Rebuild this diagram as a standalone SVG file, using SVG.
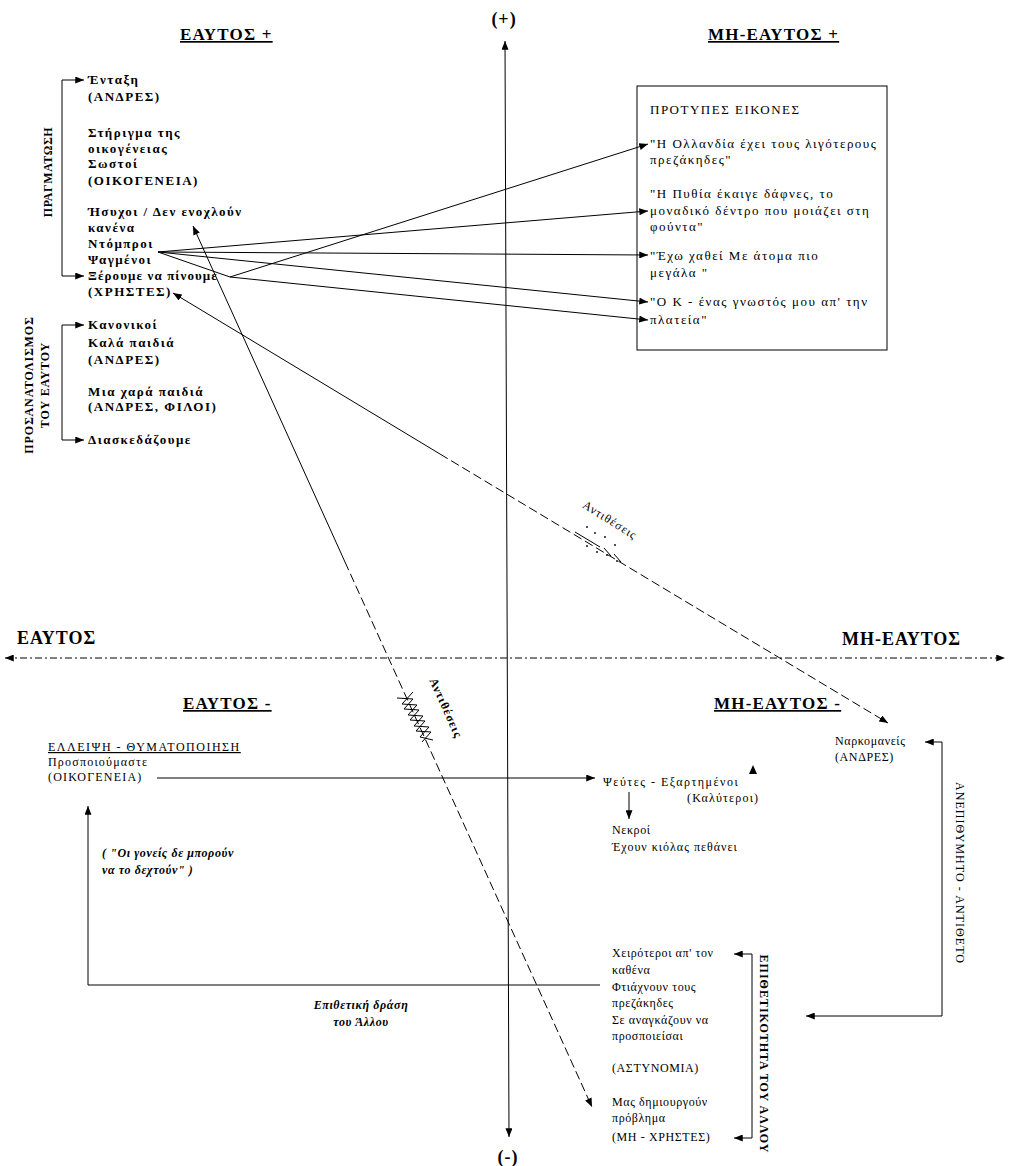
<svg xmlns="http://www.w3.org/2000/svg" width="1010" height="1166" viewBox="0 0 1010 1166" font-family="'Liberation Serif', 'DejaVu Serif', serif">
<defs>
<style>
.t{font-family:"Liberation Serif","DejaVu Serif",serif;font-size:12px;fill:#000;letter-spacing:0.6px}
.w{font-size:13px;letter-spacing:1.5px}
.b{font-weight:bold}
.i{font-style:italic}
.h{font-family:"Liberation Serif","DejaVu Serif",serif;font-size:17px;font-weight:bold;fill:#000;text-decoration:underline;letter-spacing:1.2px}
.ax{font-family:"Liberation Serif","DejaVu Serif",serif;font-size:18px;font-weight:bold;fill:#000;letter-spacing:1px}
.ln{stroke:#000;stroke-width:1;fill:none}
.ds{stroke:#000;stroke-width:1;fill:none;stroke-dasharray:7,3,2,3}
.arr{marker-end:url(#ah)}
.arr2{marker-start:url(#ah);marker-end:url(#ah)}
</style>
<marker id="ah" viewBox="0 0 10 8" refX="10" refY="4" markerWidth="9" markerHeight="7" markerUnits="userSpaceOnUse" orient="auto-start-reverse"><path d="M0,0 L10,4 L0,8 z" fill="#000"/></marker>
</defs>
<rect width="1010" height="1166" fill="#fff"/>

<g id="axes">
<line class="ln arr2" x1="505" y1="41" x2="509" y2="1137"/>
<line class="ds arr2" x1="5" y1="658" x2="1005" y2="658"/>
<text class="ax" x="504" y="25" text-anchor="middle" font-size="22">(+)</text>
<text class="ax" x="508" y="1163" text-anchor="middle" font-size="22">(-)</text>
<text class="ax" x="17" y="644">ΕΑΥΤΟΣ</text>
<text class="ax" x="842" y="645">ΜΗ-ΕΑΥΤΟΣ</text>
</g>

<g id="headings">
<text class="h" x="180" y="40">ΕΑΥΤΟΣ +</text>
<text class="h" x="708" y="40">ΜΗ-ΕΑΥΤΟΣ +</text>
<text class="h" x="183" y="709">ΕΑΥΤΟΣ -</text>
<text class="h" x="714" y="709">ΜΗ-ΕΑΥΤΟΣ -</text>
</g>

<g id="pragmatosi">
<text class="t b" transform="translate(52,172) rotate(-90)" text-anchor="middle" font-size="14" style="letter-spacing:0.6px">ΠΡΑΓΜΑΤΩΣΗ</text>
<text class="t w b" x="88" y="84">Ένταξη</text>
<text class="t w b" x="88" y="101">(ΑΝΔΡΕΣ)</text>
<text class="t w b" x="88" y="137">Στήριγμα της</text>
<text class="t w b" x="88" y="153">οικογένειας</text>
<text class="t w b" x="88" y="168">Σωστοί</text>
<text class="t w b" x="88" y="185">(ΟΙΚΟΓΕΝΕΙΑ)</text>
<text class="t w b" x="88" y="216">Ήσυχοι / Δεν ενοχλούν</text>
<text class="t w b" x="88" y="232">κανένα</text>
<text class="t w b" x="88" y="248">Ντόμπροι</text>
<text class="t w b" x="88" y="264">Ψαγμένοι</text>
<text class="t w b" x="88" y="280" style="letter-spacing:1.1px">Ξέρουμε να πίνουμε</text>
<text class="t w b" x="88" y="296">(ΧΡΗΣΤΕΣ)</text>
</g>

<g id="prosanatolismos">
<text class="t b" transform="translate(33,385) rotate(-90)" text-anchor="middle" font-size="13" style="letter-spacing:0.85px">ΠΡΟΣΑΝΑΤΟΛΙΣΜΟΣ</text>
<text class="t b" transform="translate(49,385) rotate(-90)" text-anchor="middle" font-size="13" style="letter-spacing:0.85px">ΤΟΥ ΕΑΥΤΟΥ</text>
<text class="t w b" x="88" y="329">Κανονικοί</text>
<text class="t w b" x="88" y="347">Καλά παιδιά</text>
<text class="t w b" x="88" y="364">(ΑΝΔΡΕΣ)</text>
<text class="t w b" x="88" y="396">Μια χαρά παιδιά</text>
<text class="t w b" x="88" y="411">(ΑΝΔΡΕΣ, ΦΙΛΟΙ)</text>
<text class="t w b" x="88" y="444">Διασκεδάζουμε</text>
</g>

<g id="protypes-eikones">
<rect x="637" y="86" width="250" height="264" fill="none" stroke="#000" stroke-width="1"/>
<text class="t w" x="650" y="114">ΠΡΟΤΥΠΕΣ ΕΙΚΟΝΕΣ</text>
<text class="t w" x="650" y="148">"Η Ολλανδία έχει τους λιγότερους</text>
<text class="t w" x="650" y="164">πρεζάκηδες"</text>
<text class="t w" x="650" y="198">"Η Πυθία   έκαιγε δάφνες,   το</text>
<text class="t w" x="650" y="215">μοναδικό δέντρο που μοιάζει στη</text>
<text class="t w" x="650" y="231">φούντα"</text>
<text class="t w" x="650" y="260">"Έχω χαθεί   Με άτομα πιο</text>
<text class="t w" x="650" y="277">μεγάλα  "</text>
<text class="t w" x="650" y="306">"Ο Κ  - ένας γνωστός μου απ' την</text>
<text class="t w" x="650" y="324">πλατεία"</text>
</g>

<g id="elleipsi">
<text class="t" x="48" y="751" style="text-decoration:underline;letter-spacing:1.5px">ΕΛΛΕΙΨΗ - ΘΥΜΑΤΟΠΟΙΗΣΗ</text>
<text class="t" x="48" y="766" style="letter-spacing:1.2px">Προσποιούμαστε</text>
<text class="t" x="48" y="781" style="letter-spacing:1.2px">(ΟΙΚΟΓΕΝΕΙΑ)</text>
</g>

<g id="quote">
<text class="t i b" x="102" y="857">( "Οι γονείς δε μπορούν</text>
<text class="t i b" x="102" y="874">να το δεχτούν" )</text>
</g>

<g id="epithetiki-drasi">
<text class="t i b" x="361" y="1009" text-anchor="middle">Επιθετική δράση</text>
<text class="t i b" x="361" y="1026" text-anchor="middle">του Άλλου</text>
</g>

<g id="pseftes">
<text class="t" x="603" y="786" style="letter-spacing:1.5px">Ψεύτες - Εξαρτημένοι</text>
<text class="t" x="687" y="802" style="letter-spacing:1.2px">(Καλύτεροι)</text>
<path d="M749,774 L753,765 L757,774 z" fill="#000"/>
</g>

<g id="nekroi">
<text class="t" x="612" y="834">Νεκροί</text>
<text class="t" x="612" y="851" style="letter-spacing:1px">Έχουν κιόλας πεθάνει</text>
</g>

<g id="narkomaneis">
<text class="t" x="835" y="745">Ναρκομανείς</text>
<text class="t" x="835" y="761">(ΑΝΔΡΕΣ)</text>
</g>

<g id="anepithymito">
<text class="t" transform="translate(956,873) rotate(90)" text-anchor="middle" font-size="13" style="letter-spacing:1.05px">ΑΝΕΠΙΘΥΜΗΤΟ - ΑΝΤΙΘΕΤΟ</text>
</g>

<g id="epithetikotita">
<text class="t" x="612" y="957">Χειρότεροι απ' τον</text>
<text class="t" x="612" y="974">καθένα</text>
<text class="t" x="612" y="991">Φτιάχνουν τους</text>
<text class="t" x="612" y="1007">πρεζάκηδες</text>
<text class="t" x="612" y="1024">Σε αναγκάζουν να</text>
<text class="t" x="612" y="1040">προσποιείσαι</text>
<text class="t" x="612" y="1072">(ΑΣΤΥΝΟΜΙΑ)</text>
<text class="t" x="612" y="1106">Μας δημιουργούν</text>
<text class="t" x="612" y="1122">πρόβλημα</text>
<text class="t" x="612" y="1141">(ΜΗ - ΧΡΗΣΤΕΣ)</text>
<text class="t b" transform="translate(760,1054) rotate(90)" text-anchor="middle" font-size="14" style="letter-spacing:1px">ΕΠΙΘΕΤΙΚΟΤΗΤΑ ΤΟΥ ΑΛΛΟΥ</text>
</g>

<g id="connectors">
<path class="ln arr2" d="M84,80 H62 V276 H84"/>
<path class="ln arr2" d="M84,325 H62 V440 H84"/>
<line class="ln arr" x1="230" y1="277" x2="648" y2="144"/>
<line class="ln arr" x1="158" y1="252" x2="648" y2="211"/>
<line class="ln arr" x1="158" y1="252" x2="648" y2="255"/>
<line class="ln arr" x1="158" y1="252" x2="648" y2="302"/>
<line class="ln arr" x1="230" y1="277" x2="648" y2="320"/>
<line class="ln" x1="158" y1="252" x2="230" y2="277"/>
<line class="ln" x1="193" y1="226" x2="345" y2="562" style="marker-start:url(#ah)"/>
<line class="ds arr" x1="345" y1="562" x2="592" y2="1107" style="stroke-dasharray:9,4"/>
<line class="ln" x1="173" y1="293" x2="440" y2="454" style="marker-start:url(#ah)"/>
<line class="ds arr" x1="440" y1="454" x2="888" y2="723" style="stroke-dasharray:9,4"/>
<line class="ln arr" x1="157" y1="778" x2="595" y2="778"/>
<line class="ln arr" x1="629" y1="792" x2="629" y2="819"/>
<path class="ln arr" d="M600,985 H88 V806"/>
<path class="ln arr2" d="M925,742 H942 V1016 H806"/>
<path class="ln arr2" d="M734,954 H752 V1138 H734"/>
<polyline class="ln" stroke-width="1.4" points="397,698 413,699 404,709 419,710 410,720 425,721 416,731 431,732 422,742"/>
<polyline class="ln" stroke-width="1.4" points="413,692 402,704 417,705 408,715 423,716 414,726 429,727 420,737 433,740"/>
<text class="t b" transform="translate(446,708) rotate(66)" text-anchor="middle" dy="4" font-size="13" style="letter-spacing:1px">Αντιθέσεις</text>
<text class="t" transform="translate(610,520) rotate(32)" text-anchor="middle" dy="4" font-size="13" style="letter-spacing:1px">Αντιθέσεις</text>
<g fill="#000">
<circle cx="587" cy="527" r="0.9"/><circle cx="595" cy="533" r="0.9"/><circle cx="605" cy="537" r="0.9"/><circle cx="615" cy="545" r="0.9"/>
<circle cx="587" cy="546" r="0.9"/><circle cx="597" cy="552" r="0.9"/><circle cx="607" cy="555" r="0.9"/><circle cx="617" cy="561" r="0.9"/>
</g>
<line class="ln" x1="575" y1="532" x2="600" y2="547" stroke-width="2"/>
<line class="ln" x1="604" y1="548" x2="611" y2="556"/>
<line class="ln" x1="614" y1="554" x2="621" y2="562"/>
</g>
</svg>
